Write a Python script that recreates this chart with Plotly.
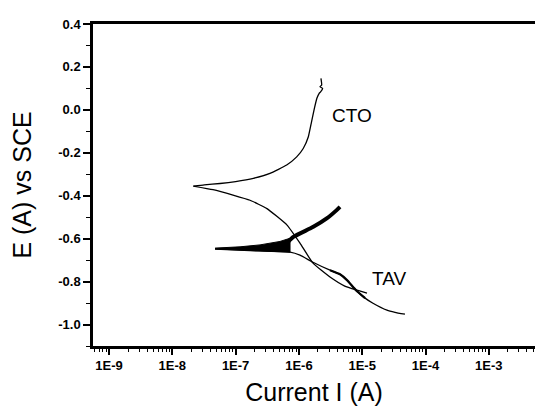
import numpy as np
import plotly.graph_objects as go

# ---------------- data ----------------
# CTO anodic branch (from corrosion potential upward)
cto_an_i = [2.15e-8, 3.2e-8, 5.68e-8, 1.0e-7, 1.91e-7, 3.49e-7, 6.41e-7, 9.23e-7, 1.17e-6,
            1.41e-6, 1.58e-6, 1.76e-6, 1.93e-6, 2.09e-6, 2.20e-6, 2.37e-6, 2.15e-6,
            2.29e-6, 2.23e-6]
cto_an_e = [-0.355, -0.349, -0.343, -0.334, -0.319, -0.296, -0.257, -0.219, -0.180,
            -0.125, -0.057, 0.008, 0.055, 0.077, 0.084, 0.100, 0.108,
            0.116, 0.147]
# CTO cathodic branch
cto_ca_i = [2.15e-8, 4.4e-8, 9.1e-8, 1.69e-7, 3.13e-7, 6.5e-7, 1.04e-6, 1.67e-6,
            3.1e-6, 5.3e-6, 8.3e-6, 1.19e-5]
cto_ca_e = [-0.355, -0.372, -0.397, -0.421, -0.460, -0.537, -0.621, -0.714,
            -0.779, -0.821, -0.840, -0.854]
# TAV noisy band near corrosion potential (upper and lower envelope)
tav_band_up_i = [4.73e-8, 1.175e-7, 2.43e-7, 5.02e-7, 7.24e-7]
tav_band_up_e = [-0.644, -0.638, -0.629, -0.613, -0.598]
tav_band_lo_i = [7.24e-7, 5.02e-7, 2.43e-7, 1.175e-7, 4.73e-8]
tav_band_lo_e = [-0.663, -0.661, -0.657, -0.652, -0.648]
# TAV anodic branch (noisy, thick)
tav_an_i = [6.73e-7, 8.17e-7, 1.69e-6, 2.75e-6, 3.95e-6, 4.46e-6]
tav_an_e = [-0.616, -0.592, -0.545, -0.506, -0.467, -0.452]
# TAV cathodic branch
tav_ca_i = [4.73e-8, 1.69e-7, 7.24e-7, 1.04e-6, 1.67e-6, 3.1e-6, 4.46e-6, 5.75e-6,
            7.97e-6, 1.11e-5, 1.48e-5, 2.46e-5, 3.30e-5, 4.74e-5]
tav_ca_e = [-0.649, -0.656, -0.663, -0.677, -0.710, -0.747, -0.766, -0.793,
            -0.840, -0.877, -0.901, -0.933, -0.943, -0.952]

x_tickvals = [1e-9, 1e-8, 1e-7, 1e-6, 1e-5, 1e-4, 1e-3]
x_ticktext = ["1E-9", "1E-8", "1E-7", "1E-6", "1E-5", "1E-4", "1E-3"]
y_tickvals = [-1.0, -0.8, -0.6, -0.4, -0.2, 0.0, 0.2, 0.4]
y_ticktext = ["-1.0", "-0.8", "-0.6", "-0.4", "-0.2", "0.0", "0.2", "0.4"]

labels = [("CTO", 6.9e-6, -0.024), ("TAV", 2.65e-5, -0.784)]

# ---------------- figure ----------------
fig = go.Figure()
line = dict(color="black", width=1.3, shape="spline", smoothing=0.4)

fig.add_trace(go.Scatter(x=cto_an_i, y=cto_an_e, mode="lines", line=line))
fig.add_trace(go.Scatter(x=cto_ca_i, y=cto_ca_e, mode="lines", line=line))
fig.add_trace(go.Scatter(x=tav_band_up_i + tav_band_lo_i, y=tav_band_up_e + tav_band_lo_e,
                         mode="lines", fill="toself", fillcolor="black",
                         line=dict(color="black", width=1)))
fig.add_trace(go.Scatter(x=tav_an_i, y=tav_an_e, mode="lines",
                         line=dict(color="black", width=4, shape="spline", smoothing=0.6)))
fig.add_trace(go.Scatter(x=tav_ca_i, y=tav_ca_e, mode="lines", line=line))
fig.add_trace(go.Scatter(x=tav_ca_i[5:10], y=tav_ca_e[5:10], mode="lines",
                         line=dict(color="black", width=2.2, shape="spline", smoothing=0.4)))

for txt, xi, ye in labels:
    fig.add_annotation(x=np.log10(xi), y=ye, text=txt, showarrow=False,
                       font=dict(family="Arial, Liberation Sans", size=19, color="black"))

minor_x = [m * 10.0 ** k for k in range(-10, -2) for m in range(2, 10)]

fig.update_layout(
    width=535, height=408,
    margin=dict(l=93, r=0, t=24, b=62),
    paper_bgcolor="white", plot_bgcolor="white",
    showlegend=False,
    font=dict(family="Arial, Liberation Sans", color="black"),
)
fig.update_xaxes(
    type="log", range=[-9.253, -2.27],
    tickmode="array", tickvals=x_tickvals, ticktext=x_ticktext,
    ticks="outside", ticklen=6, tickwidth=1.5, tickcolor="black",
    tickfont=dict(size=13, weight="bold"),
    minor=dict(tickmode="array", tickvals=minor_x, ticks="outside", ticklen=3,
               tickwidth=1.2, tickcolor="black", showgrid=False),
    showline=True, linewidth=2.5, linecolor="black", mirror=True,
    showgrid=False, zeroline=False,
    title=dict(text="Current I (A)", font=dict(size=25), standoff=12),
)
fig.update_yaxes(
    range=[-1.1, 0.4],
    tickmode="array", tickvals=y_tickvals, ticktext=y_ticktext,
    ticks="outside", ticklen=7, tickwidth=1.5, tickcolor="black",
    tickfont=dict(size=13, weight="bold"),
    minor=dict(dtick=0.1, tick0=0, ticks="outside", ticklen=4, tickwidth=1.2,
               tickcolor="black", showgrid=False),
    showline=True, linewidth=2.5, linecolor="black",
    showgrid=False, zeroline=False,
    title=dict(text="E (A) vs SCE", font=dict(size=25), standoff=20),
)

fig.write_html("out.html")
